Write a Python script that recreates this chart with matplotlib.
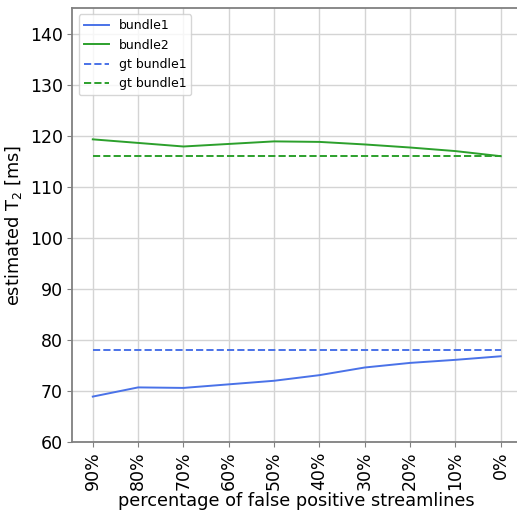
import matplotlib
matplotlib.use('Agg')
import matplotlib.pyplot as plt

# Percentage of false positive streamlines, left to right
percent_labels = ['90%', '80%', '70%', '60%', '50%', '40%', '30%', '20%', '10%', '0%']

# Estimated T2 per bundle [ms]
bundle1_t2 = [68.9, 70.7, 70.6, 71.3, 72.0, 73.1, 74.6, 75.5, 76.1, 76.8]
bundle2_t2 = [119.3, 118.6, 117.9, 118.4, 118.9, 118.8, 118.3, 117.7, 117.0, 116.0]

# Ground truth T2 [ms]
gt_bundle1 = 78.0
gt_bundle2 = 116.0

blue = '#4a72e8'
green = '#2ca02c'

fig = plt.figure(figsize=(5.17, 5.11), dpi=100)
ax = fig.add_axes([0.140, 0.135, 0.868, 0.849])

x = list(range(len(percent_labels)))
ax.plot(x, bundle1_t2, color=blue, lw=1.4, label='bundle1')
ax.plot(x, bundle2_t2, color=green, lw=1.4, label='bundle2')
ax.plot(x, [gt_bundle1] * len(x), color=blue, lw=1.4, ls='--', label='gt bundle1')
ax.plot(x, [gt_bundle2] * len(x), color=green, lw=1.4, ls='--', label='gt bundle1')

ax.set_xticks(x)
ax.set_xticklabels(percent_labels, rotation=90, fontsize=12.5)
ax.set_xlim(-0.45, len(x) - 1 + 0.45)
ax.set_ylim(60, 145)
ax.set_yticks(range(60, 141, 10))
ax.tick_params(axis='y', labelsize=12.5)
ax.tick_params(colors='#808080', labelcolor='black')
ax.grid(True, color='#d4d4d4', lw=1)
for s in ax.spines.values():
    s.set_color('#808080')
    s.set_linewidth(1.3)
ax.spines['right'].set_visible(False)

ax.set_xlabel('percentage of false positive streamlines', fontsize=12.8, labelpad=1)
ax.set_ylabel('estimated T$_2$ [ms]', fontsize=12.8, labelpad=4)
ax.legend(loc='upper left', fontsize=9)

fig.savefig('out.png', dpi=100)
